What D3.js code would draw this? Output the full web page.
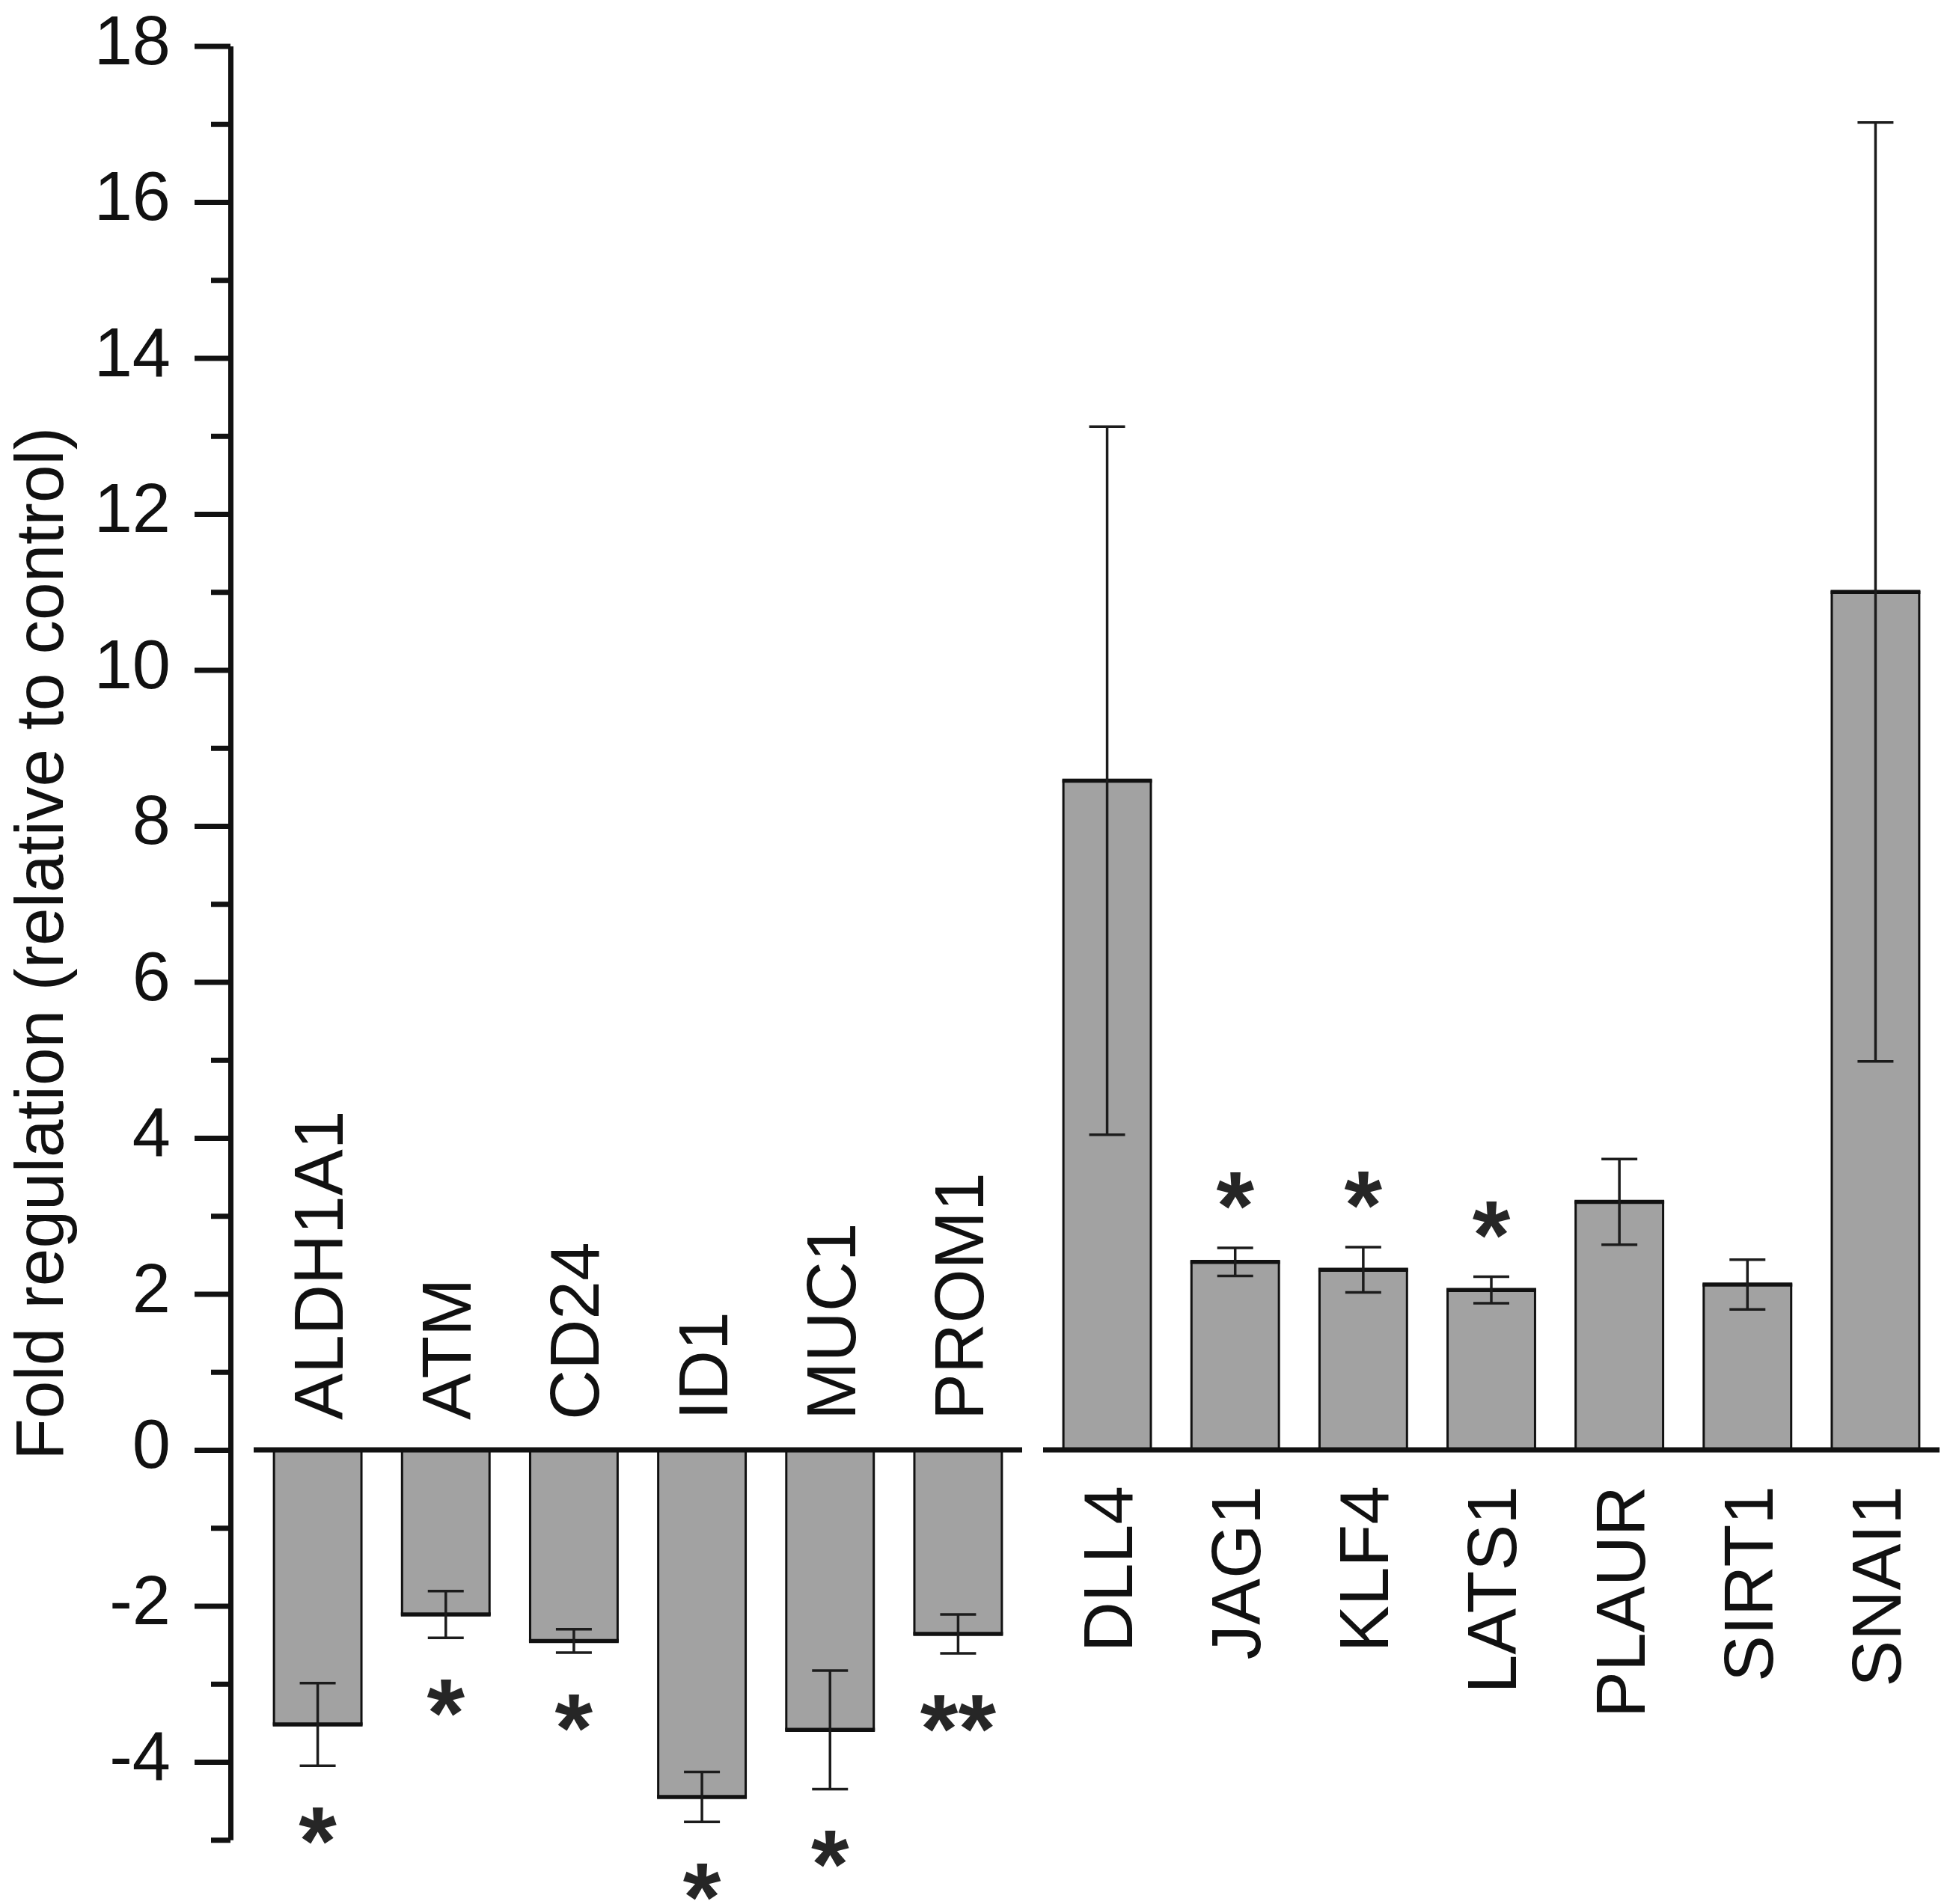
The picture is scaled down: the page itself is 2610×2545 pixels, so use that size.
<!DOCTYPE html>
<html>
<head>
<meta charset="utf-8">
<script src="https://cdn.jsdelivr.net/npm/d3@7"></script>
<style>
  html, body { margin: 0; padding: 0; background: #fff; }
  svg { display: block; }
  text { font-family: "Liberation Sans", Arial, "Helvetica", sans-serif; }
</style>
</head>
<body>
<script>
// ---------------- data ----------------
const categoriesDown = ["ALDH1A1", "ATM", "CD24", "ID1", "MUC1", "PROM1"];
const valuesDown     = [-3.52, -2.11, -2.45, -4.45, -3.59, -2.36];
const errorsDown     = [0.53, 0.30, 0.15, 0.32, 0.76, 0.25];
const starsDown      = ["*", "*", "*", "*", "*", "**"];

const categoriesUp = ["DLL4", "JAG1", "KLF4", "LATS1", "PLAUR", "SIRT1", "SNAI1"];
const valuesUp     = [8.58, 2.41, 2.31, 2.05, 3.18, 2.12, 11.0];
const errorsUp     = [4.54, 0.18, 0.29, 0.17, 0.55, 0.32, 6.02];
const starsUp      = ["", "*", "*", "*", "", "", ""];

const majorTicks = [-4, -2, 0, 2, 4, 6, 8, 10, 12, 14, 16, 18];
const minorTicks = [-5, -3, -1, 1, 3, 5, 7, 9, 11, 13, 15, 17];
const yDomain = [-5, 18];
const yTitle = "Fold regulation (relative to control)";

// ---------------- layout ----------------
const W = 2610, H = 2545;
const axisX = 308;
const y = d3.scaleLinear().domain(yDomain).range([2459.25, 61.5]);
const xDown = d3.scaleBand().domain(categoriesDown).range([339, 1366])
  .paddingInner(0.317).paddingOuter(0.1585);
const xUp = d3.scaleBand().domain(categoriesUp).range([1394, 2592])
  .paddingInner(0.317).paddingOuter(0.1585);

const BAR_FILL = "#a2a2a2";
const INK = "#111";
const STAR_INK = "#262626";
const labelFs = 93, tickFs = 92, titleFs = 91, starFs = 130;
const capW = 48;

const svg = d3.select("body").append("svg")
  .attr("width", W).attr("height", H).attr("viewBox", `0 0 ${W} ${H}`);

// ---------------- y axis ----------------
const majorAxis = d3.axisLeft(y).tickValues(majorTicks).tickSize(48).tickPadding(32)
  .tickSizeOuter(0).tickFormat(d => String(d));
const minorAxis = d3.axisLeft(y).tickValues(minorTicks).tickSize(26)
  .tickSizeOuter(0).tickFormat("");

const gMinor = svg.append("g").attr("transform", `translate(${axisX},0)`).call(minorAxis);
gMinor.select(".domain").remove();
gMinor.selectAll(".tick line").attr("stroke", INK).attr("stroke-width", 7);

const gMajor = svg.append("g").attr("transform", `translate(${axisX},0)`).call(majorAxis);
gMajor.select(".domain").attr("stroke", INK).attr("stroke-width", 7);
gMajor.selectAll(".tick line").attr("stroke", INK).attr("stroke-width", 7);
gMajor.selectAll(".tick text")
  .attr("font-size", tickFs)
  .attr("fill", INK)
  .attr("dy", "0.26em")
  .style("font-family", '"Liberation Sans", Arial, sans-serif');

// y title
svg.append("text")
  .attr("transform", `translate(84, ${(y(18) + y(-5)) / 2 + 1}) rotate(-90)`)
  .attr("text-anchor", "middle")
  .attr("font-size", titleFs)
  .attr("fill", INK)
  .text(yTitle);

// ---------------- bars ----------------
function drawGroup(cats, vals, errs, stars, x, labelAbove) {
  const data = cats.map((c, i) => ({ c, v: vals[i], e: errs[i], s: stars[i] }));
  const g = svg.append("g");
  const bw = x.bandwidth();

  g.selectAll("rect.bar").data(data).join("rect")
    .attr("class", "bar")
    .attr("x", d => x(d.c))
    .attr("width", bw)
    .attr("y", d => Math.min(y(d.v), y(0)))
    .attr("height", d => Math.abs(y(d.v) - y(0)))
    .attr("fill", BAR_FILL)
    .attr("stroke", INK)
    .attr("stroke-width", 3);

  // thicker edge at bar value end
  g.selectAll("line.end").data(data).join("line")
    .attr("class", "end")
    .attr("x1", d => x(d.c) - 1.5).attr("x2", d => x(d.c) + bw + 1.5)
    .attr("y1", d => y(d.v)).attr("y2", d => y(d.v))
    .attr("stroke", INK).attr("stroke-width", 5.5);

  // error bars
  const eb = g.selectAll("g.err").data(data).join("g").attr("class", "err")
    .attr("stroke", "#1c1c1c").attr("stroke-width", 3.5);
  eb.append("line")
    .attr("x1", d => x(d.c) + bw / 2).attr("x2", d => x(d.c) + bw / 2)
    .attr("y1", d => y(d.v - d.e)).attr("y2", d => y(d.v + d.e));
  eb.append("line")
    .attr("x1", d => x(d.c) + bw / 2 - capW / 2).attr("x2", d => x(d.c) + bw / 2 + capW / 2)
    .attr("y1", d => y(d.v - d.e)).attr("y2", d => y(d.v - d.e));
  eb.append("line")
    .attr("x1", d => x(d.c) + bw / 2 - capW / 2).attr("x2", d => x(d.c) + bw / 2 + capW / 2)
    .attr("y1", d => y(d.v + d.e)).attr("y2", d => y(d.v + d.e));

  // significance stars
  g.selectAll("text.star").data(data.filter(d => d.s)).join("text")
    .attr("class", "star")
    .attr("x", d => x(d.c) + bw / 2)
    .attr("y", d => {
      const centre = d.v < 0 ? y(d.v - d.e) + 74 : y(d.v + d.e) - 82;
      return centre + 0.55 * starFs;
    })
    .attr("text-anchor", "middle")
    .attr("font-size", starFs)
    .attr("font-weight", "bold")
    .attr("fill", STAR_INK)
    .text(d => d.s);

  // zero line segment
  g.append("line")
    .attr("x1", x.range()[0]).attr("x2", x.range()[1])
    .attr("y1", y(0)).attr("y2", y(0))
    .attr("stroke", INK).attr("stroke-width", 7);

  // category labels (rotated)
  g.selectAll("text.cat").data(data).join("text")
    .attr("class", "cat")
    .attr("transform", d => {
      const cx = x(d.c) + bw / 2 + 0.36 * labelFs;
      const yy = labelAbove ? y(0) - 40 : y(0) + 48;
      return `translate(${cx},${yy}) rotate(-90)`;
    })
    .attr("text-anchor", labelAbove ? "start" : "end")
    .attr("font-size", labelFs)
    .attr("fill", INK)
    .text(d => d.c);
}

drawGroup(categoriesDown, valuesDown, errorsDown, starsDown, xDown, true);
drawGroup(categoriesUp, valuesUp, errorsUp, starsUp, xUp, false);
</script>
</body>
</html>
